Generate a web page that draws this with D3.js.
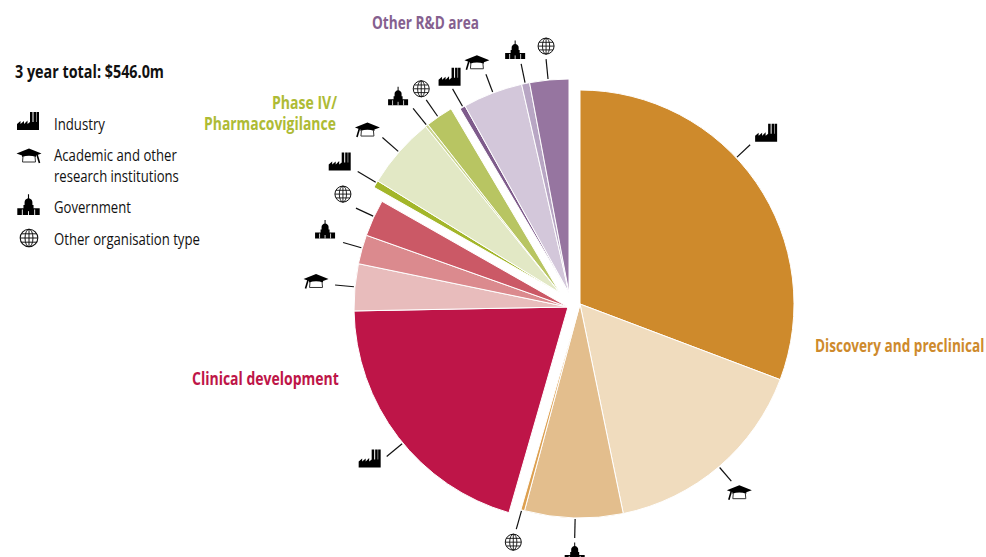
<!DOCTYPE html>
<html><head><meta charset="utf-8">
<script src="https://cdn.jsdelivr.net/npm/d3@7/dist/d3.min.js"></script>
<style>html,body{margin:0;background:#fff;overflow:hidden}svg{display:block}text{font-family:"Open Sans",sans-serif}</style>
</head><body><svg id="c" width="986" height="557"></svg>
<script>
// ---- data ($m) ----
const groups = ["Discovery and preclinical","Clinical development","Phase IV/ Pharmacovigilance","Other R&D area"];
const orgTypes = ["Industry","Academic and other research institutions","Government","Other organisation type"];
const discoveryValues = [167.9,87.4,40.5,1.5];
const clinicalValues  = [110.6,19.3,12.0,15.2];
const phase4Values    = [3.0,29.6,1.2,11.4];
const otherValues     = [2.3,24.7,3.3,16.1];
const totalLabel = "3 year total: $546.0m";

// ---- styling / layout ----
const palette = [
  ["#CE8A2C","#F0DCBE","#E3BE8D","#DDA050"],
  ["#BE1548","#E8BCBC","#DB8A8E","#CB5966"],
  ["#A3B62A","#E2E8C5","#CBD590","#B8C562"],
  ["#7E5B8B","#D3C7DA","#B8A6C4","#9675A0"]];
const groupCentres = [[580,304],[568,307],[560,293],[569,293]];
const R = 214;
const calloutAngles = [[46.9,139.5,181.3,195.8],[230.5,275.4,286,295],[301,311.2,321.5,325.3],[330.3,339.2,348.2,354.4]];
const leaderLen = [[18,18,19,19],[20,19,19,19],[21,21,21,20],[20,19,19,20]];
const iconShift = [[[16,-12],[8,11],[0,14],[-3,13]],[[-17,2],[-19,-4],[-18,-13],[-13,-14]],[[-18,-10],[-15,-8],[-15,-12],[-5,-11]],[[-3,-12],[-9,-12],[-6,-14],[0,-13]]];

const svg = d3.select("#c");
const black = "#000";
function icon(sel,type,cx,cy,opt={}){
  const sc = opt.scale||1, fx = opt.flip?-1:1;
  const g = sel.append("g").attr("transform",`translate(${cx},${cy}) scale(${sc*fx},${sc})`);
  if(type===0){
    g.append("path").attr("fill",black).attr("d","M-11,9V3L-7.5,0V3L-4,0V3L-.5,-.5V3L2,1V-9H4.5V1H5.5V-9H8V1H8.5V-9H11V9Z");
  } else if(type===1){
    g.append("path").attr("fill",black).attr("d","M-12.5,-2L0,-7L12.5,-2L7,0V1.5Q0,-1 -7,1.5V0Z");
    g.append("path").attr("fill","none").attr("stroke","#333").attr("stroke-width",1).attr("d","M-6,1L-6.5,6.5H6.5L6,1");
    g.append("path").attr("fill","none").attr("stroke",black).attr("stroke-width",1.6).attr("d","M-8,-1L-10.5,7.5");
  } else if(type===2){
    g.append("path").attr("fill",black).attr("d","M-10,9V3H-4.5V0H-3.5V-2.5Q-3.5,-5 -.5,-6V-9.5H.5V-6Q3.5,-5 3.5,-2.5V0H4.5V3H10V9Z");
    g.append("path").attr("fill","none").attr("stroke","#fff").attr("stroke-width",.8).attr("d","M-5.5,4V9M5.5,4V9M0,5.5V9");
  } else {
    g.append("circle").attr("r",8).attr("fill","#fff").attr("stroke","#111").attr("stroke-width",1);
    g.append("ellipse").attr("rx",3.6).attr("ry",8).attr("fill","none").attr("stroke","#111").attr("stroke-width",.9);
    g.append("path").attr("fill","none").attr("stroke","#111").attr("stroke-width",.9).attr("d","M0,-8V8M-8,0H8M-7,-3.8H7M-7,3.8H7");
  }
}
function label(txt,x,y,len,opt={}){
  const t = svg.append("text").text(txt)
    .attr("font-size",opt.size||16.5).attr("font-weight",opt.bold?700:400).attr("fill",opt.fill||"#111");
  const natural = t.node().getComputedTextLength();
  t.attr("transform",`translate(${x},${y}) scale(${len/natural},1)`);
  return t;
}

const allValues = [discoveryValues,clinicalValues,phase4Values,otherValues];
const flat = allValues.flatMap((vals,g)=>vals.map((v,i)=>({v,g,i})));
const pie = d3.pie().sort(null).value(d=>d.v);
const arcGen = d3.arc().innerRadius(0).outerRadius(R);
const toXY = (c,deg,r)=>{const a=deg*Math.PI/180;return [c[0]+r*Math.sin(a),c[1]-r*Math.cos(a)];};

pie(flat).forEach(a=>{
  const {g,i}=a.data, c=groupCentres[g];
  svg.append("path").attr("transform",`translate(${c})`).attr("d",arcGen(a))
    .attr("fill",palette[g][i]).attr("stroke","#fff").attr("stroke-width",1);
  const s=toXY(c,calloutAngles[g][i],R+1), e=toXY(c,calloutAngles[g][i],R+1+leaderLen[g][i]);
  svg.append("line").attr("x1",s[0]).attr("y1",s[1]).attr("x2",e[0]).attr("y2",e[1])
    .attr("stroke","#111").attr("stroke-width",1.2);
  icon(svg,i,e[0]+iconShift[g][i][0],e[1]+iconShift[g][i][1]);
});

// text
label(totalLabel,15,78,149,{bold:true,size:17.5});
label("Industry",54,129.5,51);
label("Academic and other",54,161,123);
label("research institutions",54,182,125);
label("Government",54,213,77);
label("Other organisation type",54,245,146);
[[28,121,{}],[29,155.5,{flip:true}],[28.5,205,{scale:1.12}],[29,238,{scale:1.1}]].forEach((p,i)=>icon(svg,i,p[0],p[1],p[2]));

label(groups[0],815,352,169.5,{bold:true,size:17.5,fill:"#CE8A2C"});
label(groups[1],192,385,147,{bold:true,size:17.5,fill:"#BE1548"});
label("Phase IV/",272,109,65,{bold:true,size:17.5,fill:"#AEBB35"});
label("Pharmacovigilance",204,130,132,{bold:true,size:17.5,fill:"#AEBB35"});
label(groups[3],372,29,107,{bold:true,size:17.5,fill:"#85608F"});
</script></body></html>
